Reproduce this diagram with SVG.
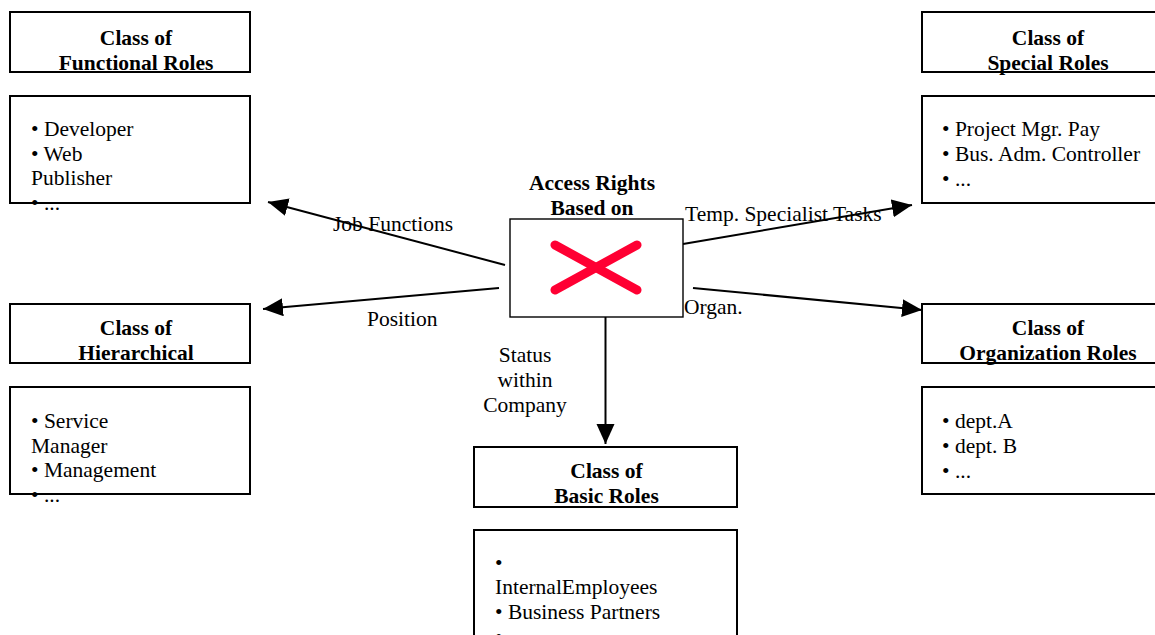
<svg xmlns="http://www.w3.org/2000/svg" width="1155" height="635" viewBox="0 0 1155 635">
<style>
.box{fill:#fff;stroke:#000;stroke-width:2}
.cbox{fill:#fff;stroke:#000;stroke-width:1.4}
.t{font-family:"Liberation Serif","Times New Roman",serif;font-size:21.5px;fill:#000}
.h{font-weight:bold;text-anchor:middle}
.m{text-anchor:middle}
.edge{stroke:#000;stroke-width:2;fill:none;marker-end:url(#arr)}
.x{stroke:#FF0033;stroke-width:9;stroke-linecap:round}
</style>
<defs>
<marker id="arr" markerUnits="userSpaceOnUse" markerWidth="22" markerHeight="20" refX="20" refY="9" orient="auto">
<path d="M0,0 L20,9 L0,18 Z" fill="#000"/>
</marker>
</defs>
<rect width="1155" height="635" fill="#fff"/>
<g id="connectors">
<line class="edge" x1="505" y1="265" x2="268" y2="202"/>
<line class="edge" x1="499" y1="288" x2="263" y2="309"/>
<line class="edge" x1="683" y1="244" x2="912" y2="205"/>
<line class="edge" x1="693" y1="288" x2="922" y2="310"/>
<line class="edge" x1="605.5" y1="317" x2="605.5" y2="444"/>
<text class="t" x="333" y="231">Job Functions</text>
<text class="t" x="367" y="326">Position</text>
<text class="t" x="685" y="221">Temp. Specialist Tasks</text>
<text class="t" x="684" y="314">Organ.</text>
<text class="t m" x="525" y="362">Status</text>
<text class="t m" x="525" y="387">within</text>
<text class="t m" x="525" y="412">Company</text>
</g>
<g id="center">
<text class="t h" x="592" y="190">Access Rights</text>
<text class="t h" x="592" y="215">Based on</text>
<rect class="cbox" x="510" y="219" width="173" height="98"/>
<line class="x" x1="555" y1="245" x2="637" y2="290"/>
<line class="x" x1="555" y1="290" x2="637" y2="245"/>
</g>
<g id="functional">
<rect class="box" x="10" y="12" width="240" height="60"/>
<text class="t h" x="136" y="45">Class of</text>
<text class="t h" x="136" y="70">Functional Roles</text>
<rect class="box" x="10" y="96" width="240" height="107"/>
<text class="t" x="31" y="136">• Developer</text>
<text class="t" x="31" y="161">• Web</text>
<text class="t" x="31" y="185">Publisher</text>
<text class="t" x="31" y="210">• ...</text>
</g>
<g id="special">
<rect class="box" x="922" y="12" width="240" height="60"/>
<text class="t h" x="1048" y="45">Class of</text>
<text class="t h" x="1048" y="70">Special Roles</text>
<rect class="box" x="922" y="96" width="240" height="107"/>
<text class="t" x="942" y="136">• Project Mgr. Pay</text>
<text class="t" x="942" y="161">• Bus. Adm. Controller</text>
<text class="t" x="942" y="186">• ...</text>
</g>
<g id="hierarchical">
<rect class="box" x="10" y="304" width="240" height="59"/>
<text class="t h" x="136" y="335">Class of</text>
<text class="t h" x="136" y="360">Hierarchical</text>
<rect class="box" x="10" y="387" width="240" height="107"/>
<text class="t" x="31" y="428">• Service</text>
<text class="t" x="31" y="453">Manager</text>
<text class="t" x="31" y="477">• Management</text>
<text class="t" x="31" y="502">• ...</text>
</g>
<g id="organization">
<rect class="box" x="922" y="304" width="240" height="59"/>
<text class="t h" x="1048" y="335">Class of</text>
<text class="t h" x="1048" y="360">Organization Roles</text>
<rect class="box" x="922" y="387" width="240" height="107"/>
<text class="t" x="942" y="428">• dept.A</text>
<text class="t" x="942" y="453">• dept. B</text>
<text class="t" x="942" y="478">• ...</text>
</g>
<g id="basic">
<rect class="box" x="474" y="447" width="263" height="60"/>
<text class="t h" x="606.5" y="478">Class of</text>
<text class="t h" x="606.5" y="503">Basic Roles</text>
<rect class="box" x="474" y="530" width="263" height="120"/>
<text class="t" x="495" y="570">•</text>
<text class="t" x="495" y="594">InternalEmployees</text>
<text class="t" x="495" y="619">• Business Partners</text>
<text class="t" x="495" y="644">• ...</text>
</g>
</svg>
